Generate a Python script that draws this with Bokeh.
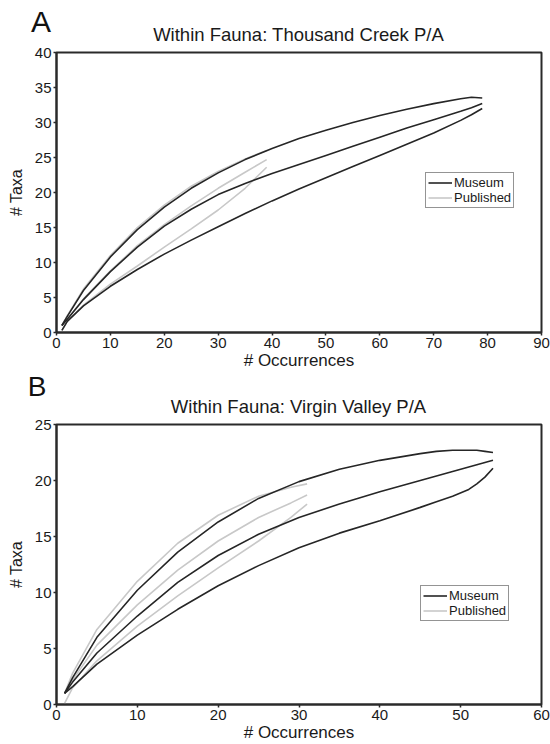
from bokeh.plotting import figure
from bokeh.models import Range1d, Legend, LegendItem, SingleIntervalTicker, Div
from bokeh.layouts import column
from bokeh.embed import file_html
from bokeh.resources import INLINE

# ---------------- Panel A: Thousand Creek ----------------
a_mus_x = [1, 2, 5, 10, 15, 20, 25, 30, 35, 40, 45, 50, 55, 60, 65, 70, 75, 77, 79]
a_mus_upper = [1.0, 2.3, 6.0, 10.8, 14.7, 17.9, 20.6, 22.8, 24.7, 26.3, 27.7, 28.9, 30.0, 31.0, 31.9, 32.7, 33.4, 33.6, 33.5]
a_mus_mean = [1.0, 1.9, 4.7, 8.7, 12.2, 15.2, 17.6, 19.7, 21.3, 22.7, 24.0, 25.3, 26.6, 27.9, 29.2, 30.4, 31.6, 32.1, 32.7]
a_mus_lower = [0.3, 1.6, 3.8, 6.6, 9.0, 11.2, 13.2, 15.1, 17.0, 18.8, 20.5, 22.1, 23.7, 25.3, 26.9, 28.5, 30.3, 31.1, 32.0]

a_pub_x = [1, 2, 5, 10, 15, 20, 25, 30, 35, 39]
a_pub_upper = [1.0, 2.4, 6.2, 11.0, 15.0, 18.2, 20.9, 23.0, 24.8, 26.0]
a_pub_mean = [1.0, 1.9, 4.8, 8.8, 12.4, 15.4, 18.1, 20.6, 22.9, 24.7]
a_pub_lower = [0.3, 1.6, 3.9, 6.9, 9.5, 12.2, 14.8, 17.5, 20.6, 23.6]

# ---------------- Panel B: Virgin Valley ----------------
b_mus_x = [1, 2, 5, 10, 15, 20, 25, 30, 35, 40, 45, 47, 49, 51, 52, 53, 54]
b_mus_upper = [1.0, 2.4, 6.0, 10.2, 13.6, 16.3, 18.4, 19.9, 21.0, 21.8, 22.4, 22.6, 22.7, 22.7, 22.7, 22.6, 22.5]
b_mus_mean = [1.0, 2.0, 4.6, 7.9, 10.9, 13.3, 15.2, 16.7, 17.9, 19.0, 20.0, 20.4, 20.8, 21.2, 21.4, 21.6, 21.8]
b_mus_lower = [1.0, 1.6, 3.6, 6.2, 8.5, 10.6, 12.4, 14.0, 15.3, 16.4, 17.6, 18.1, 18.6, 19.2, 19.7, 20.3, 21.1]

b_pub_x = [1, 2, 5, 10, 15, 20, 25, 29, 31]
b_pub_upper = [1.0, 2.8, 6.7, 11.0, 14.4, 16.9, 18.6, 19.4, 19.7]
b_pub_mean = [1.0, 2.2, 5.3, 8.9, 12.0, 14.6, 16.7, 18.0, 18.7]
b_pub_lower = [0.1, 1.5, 3.9, 7.0, 9.7, 12.2, 14.6, 16.7, 17.9]

titles = ["Within Fauna: Thousand Creek P/A", "Within Fauna: Virgin Valley P/A"]
letters = ["A", "B"]

FONT = "Liberation Sans"
TXT = "#1a1a1a"
MUS = "#262626"
PUB = "#c8c8c8"
HEAD_H = 43


def header(letter, title, lsize, ltop, lcx, ttop):
    html = (
        f'<div style="position:relative;width:550px;height:{HEAD_H}px;'
        "font-family:'Liberation Sans',Arial,sans-serif;color:#1a1a1a;\">"
        f'<div style="position:absolute;left:{lcx - 20}px;width:40px;top:{ltop}px;'
        f'text-align:center;font-size:{lsize}px;line-height:{lsize}px;color:#111;">{letter}</div>'
        f'<div style="position:absolute;left:56px;width:485px;top:{ttop}px;'
        f'text-align:center;font-size:18.5px;line-height:18.5px;white-space:nowrap;">{title}</div>'
        '</div>'
    )
    return Div(text=html, width=550, height=HEAD_H, margin=(0, 0, 0, 0),
               styles={"overflow": "visible"})


def make_panel(xmax, ymax, mus, pub, leg_loc):
    p = figure(width=550, height=372 - HEAD_H, output_backend="svg",
               toolbar_location=None,
               x_range=Range1d(0, xmax), y_range=Range1d(0, ymax),
               min_border_left=56, min_border_right=9,
               min_border_top=52 - HEAD_H, min_border_bottom=40)
    p.xgrid.visible = False
    p.ygrid.visible = False
    p.outline_line_color = "#2a2a2a"
    p.outline_line_width = 2
    p.background_fill_color = "white"
    p.border_fill_color = "white"
    p.border_fill_alpha = 0

    p.xaxis.ticker = SingleIntervalTicker(interval=10)
    p.yaxis.ticker = SingleIntervalTicker(interval=5)
    for ax in (p.xaxis[0], p.yaxis[0]):
        ax.axis_line_color = "#2a2a2a"
        ax.axis_line_width = 2
        ax.major_tick_line_color = "#2a2a2a"
        ax.major_tick_line_width = 1.5
        ax.major_tick_in = 0
        ax.major_tick_out = 3
        ax.minor_tick_line_color = None
        ax.major_label_text_font = FONT
        ax.major_label_text_font_size = "15px"
        ax.major_label_text_color = TXT
        ax.major_label_standoff = 1
    p.xaxis.axis_label = "# Occurrences"
    p.xaxis.axis_label_text_font_size = "17px"
    p.xaxis.axis_label_standoff = 0
    p.yaxis.axis_label = "# Taxa"
    p.yaxis.axis_label_text_font_size = "16px"
    p.yaxis.axis_label_standoff = 7
    for ax in (p.xaxis[0], p.yaxis[0]):
        ax.axis_label_text_font = FONT
        ax.axis_label_text_font_style = "normal"
        ax.axis_label_text_color = TXT

    px, pu, pm, pl = pub
    mx, mu, mm, ml = mus
    pubs = [p.line(px, ys, line_color=PUB, line_width=1.6) for ys in (pu, pm, pl)]
    muss = [p.line(mx, ys, line_color=MUS, line_width=1.6) for ys in (mu, mm, ml)]

    legend = Legend(items=[LegendItem(label="Museum", renderers=[muss[0]]),
                           LegendItem(label="Published", renderers=[pubs[0]])],
                    location=leg_loc, orientation="vertical",
                    border_line_color="#2a2a2a", border_line_width=1.5,
                    background_fill_color="white", background_fill_alpha=1,
                    padding=2, spacing=0, margin=0,
                    label_text_font=FONT, label_text_font_size="13px",
                    label_text_color=TXT,
                    label_height=11, glyph_height=11, glyph_width=24,
                    label_standoff=2)
    p.add_layout(legend, "center")
    return p


hA = header(letters[0], titles[0], 30, 7, 41, 26)
pA = make_panel(90, 40,
                (a_mus_x, a_mus_upper, a_mus_mean, a_mus_lower),
                (a_pub_x, a_pub_upper, a_pub_mean, a_pub_lower),
                (369, 124))
hB = header(letters[1], titles[1], 28, 1, 37, 26)
pB = make_panel(60, 25,
                (b_mus_x, b_mus_upper, b_mus_mean, b_mus_lower),
                (b_pub_x, b_pub_upper, b_pub_mean, b_pub_lower),
                (364, 83))

layout = column(hA, pA, hB, pB, spacing=0)
open("out.html", "w").write(file_html(layout, INLINE))
